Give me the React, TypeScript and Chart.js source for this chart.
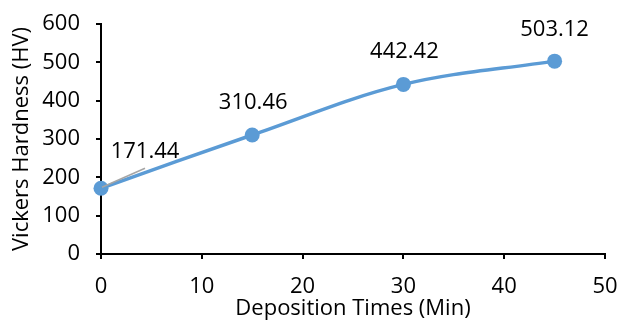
import React, { useEffect, useRef } from "react";
import { Chart, registerables } from "chart.js";

Chart.register(...registerables);

const times = [0, 15, 30, 45];
const hardness = [171.44, 310.46, 442.42, 503.12];
const valueLabels = ["171.44", "310.46", "442.42", "503.12"];
const xTitle = "Deposition Times (Min)";
const yTitle = "Vickers Hardness (HV)";

const FONT = "'Open Sans', 'Noto Sans', sans-serif";
const BLUE = "#5B9BD5";

const labelPlugin = {
  id: "valueLabels",
  afterDatasetsDraw(chart: any) {
    const meta = chart.getDatasetMeta(0);
    const ctx = chart.ctx;
    const offsets = [
      [44, -37],
      [1, -32],
      [1, -33],
      [0, -31],
    ];
    ctx.save();
    meta.data.forEach((pt: any, i: number) => {
      const [dx, dy] = offsets[i];
      const lx = pt.x + dx;
      const ly = pt.y + dy;
      if (i === 0) {
        ctx.strokeStyle = "#A5A5A5";
        ctx.lineWidth = 1.5;
        ctx.beginPath();
        ctx.moveTo(pt.x + 1, pt.y - 1);
        ctx.lineTo(lx, pt.y - 20);
        ctx.stroke();
      }
      ctx.fillStyle = "#000";
      ctx.font = `22px ${FONT}`;
      ctx.textAlign = "center";
      ctx.textBaseline = "middle";
      ctx.fillText(valueLabels[i], lx, ly);
    });
    ctx.restore();
  },
};

export default function App() {
  const ref = useRef<HTMLCanvasElement | null>(null);
  useEffect(() => {
    const canvas = ref.current!;
    const chart = new Chart(canvas, {
      type: "line",
      data: {
        datasets: [
          {
            data: times.map((t, i) => ({ x: t, y: hardness[i] })),
            borderColor: BLUE,
            backgroundColor: BLUE,
            borderWidth: 3.5,
            pointRadius: 7.5,
            pointBackgroundColor: BLUE,
            pointBorderColor: BLUE,
            pointBorderWidth: 0,
            tension: 0.35,
            clip: false as any,
          },
        ],
      },
      options: {
        animation: false,
        responsive: false,
        devicePixelRatio: 1,
        layout: { padding: { top: 24, right: 15, left: 0, bottom: 0 } },
        plugins: {
          legend: { display: false },
          tooltip: { enabled: false },
        },
        scales: {
          x: {
            type: "linear",
            min: 0,
            max: 50,
            afterFit: (s: any) => {
              s.height = 66;
              s.paddingLeft = 0;
              s.paddingRight = 0;
            },
            ticks: {
              stepSize: 10,
              color: "#000",
              font: { family: FONT, size: 22 },
              padding: 15,
              maxRotation: 0,
            },
            grid: {
              drawOnChartArea: false,
              drawTicks: true,
              tickLength: 5,
              color: "#000",
              lineWidth: 2,
            },
            border: { display: true, color: "#000", width: 2 },
            title: {
              display: true,
              text: xTitle,
              color: "#000",
              font: { family: FONT, size: 22 },
              padding: { top: 0, bottom: -2 },
            },
          },
          y: {
            type: "linear",
            min: 0,
            max: 600,
            afterFit: (s: any) => {
              s.width = 101;
              s.paddingTop = 0;
              s.paddingBottom = 0;
            },
            ticks: {
              stepSize: 100,
              color: "#000",
              font: { family: FONT, size: 22 },
              padding: 16,
            },
            grid: {
              drawOnChartArea: false,
              drawTicks: true,
              tickLength: 5,
              color: "#000",
              lineWidth: 2,
            },
            border: { display: true, color: "#000", width: 2 },
            title: {
              display: true,
              text: yTitle,
              color: "#000",
              font: { family: FONT, size: 22 },
              padding: { top: 9, bottom: 0 },
            },
          },
        },
      },
      plugins: [labelPlugin],
    });
    return () => chart.destroy();
  }, []);
  return (
    <div style={{ position: "fixed", left: 0, top: 0, width: 620, height: 320, background: "#fff" }}>
      <canvas ref={ref} width={620} height={320} />
    </div>
  );
}
